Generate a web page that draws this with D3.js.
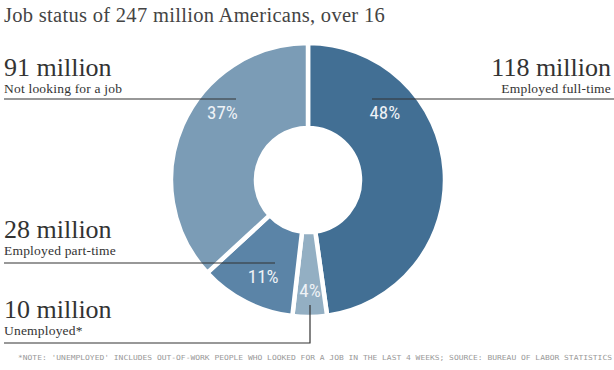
<!DOCTYPE html>
<html>
<head>
<meta charset="utf-8">
<script src="https://cdn.jsdelivr.net/npm/d3@7"></script>
<style>
  body { margin: 0; background: #fff; }
</style>
</head>
<body>
<div id="content"></div>
<script>
const categories = ["Employed full-time", "Unemployed*", "Employed part-time", "Not looking for a job"];
const millions = [118, 10, 28, 91];
const percent_labels = ["48%", "4%", "11%", "37%"];
const colors = ["#426f94", "#93afc3", "#5b84a7", "#7b9cb6"];

const width = 614, height = 370;
const cx = 308, cy = 180;
const outer_r = 137, inner_r = 52;

// where the big labels sit and where their rule ends
const callouts = [
  { x: 611, y: 76, anchor: "end",   line: [[614, 99], [372, 99]] },
  { x: 4,   y: 318, anchor: "start", line: [[4, 343], [310, 343], [310, 305]] },
  { x: 4,   y: 238, anchor: "start", line: [[4, 263], [275, 263]] },
  { x: 4,   y: 76,  anchor: "start", line: [[4, 99], [236, 99]] }
];
// angle (deg, clockwise from top) and radius of the percent text
const pct_pos = [[51.6, 98], [179, 117], [203.6, 112], [-54.6, 105]];

const svg = d3.select("#content")
  .append("svg")
  .attr("width", width)
  .attr("height", height);

svg.append("text")
  .attr("x", 4)
  .attr("y", 22)
  .style("font-family", "Liberation Serif")
  .style("font-size", "20.5px")
  .style("letter-spacing", "0.3px")
  .style("fill", "#444")
  .text("Job status of 247 million Americans, over 16");

const pie = d3.pie().sort(null).value(d => d)(millions);
const arc = d3.arc().innerRadius(inner_r).outerRadius(outer_r);

const g = svg.append("g").attr("transform", `translate(${cx},${cy})`);

g.selectAll("path")
  .data(pie)
  .join("path")
  .attr("d", arc)
  .style("fill", (d, i) => colors[i])
  .style("stroke", "#fff")
  .style("stroke-width", 4.5)
  .style("stroke-linejoin", "miter");

// rules from the labels into the slices
const line = d3.line();
svg.selectAll(".rule")
  .data(callouts)
  .join("path")
  .attr("class", "rule")
  .attr("d", d => line(d.line))
  .style("fill", "none")
  .style("stroke", "#333")
  .style("stroke-width", 1.2);

g.selectAll(".pct")
  .data(pie)
  .join("text")
  .attr("class", "pct")
  .attr("x", (d, i) => pct_pos[i][1] * Math.sin(pct_pos[i][0] * Math.PI / 180))
  .attr("y", (d, i) => -pct_pos[i][1] * Math.cos(pct_pos[i][0] * Math.PI / 180))
  .attr("text-anchor", "middle")
  .style("font-family", "'Liberation Sans Narrow', 'Roboto Condensed', Roboto, sans-serif")
  .style("font-size", "19px")
  .style("fill", "#eef2f6")
  .text((d, i) => percent_labels[i]);

callouts.forEach((c, i) => {
  svg.append("text")
    .attr("x", c.x)
    .attr("y", c.y)
    .attr("text-anchor", c.anchor)
    .style("font-family", "Liberation Serif")
    .style("font-size", "26px")
    .style("fill", "#333")
    .text(millions[i] + " million");
  svg.append("text")
    .attr("x", c.x)
    .attr("y", c.y + 17)
    .attr("text-anchor", c.anchor)
    .style("font-family", "Liberation Serif")
    .style("font-size", "13.5px")
    .style("letter-spacing", "0.2px")
    .style("fill", "#333")
    .text(categories[i]);
});

svg.append("text")
  .attr("x", 18)
  .attr("y", 360)
  .attr("textLength", 594)
  .attr("lengthAdjust", "spacingAndGlyphs")
  .style("font-family", "DejaVu Sans Mono")
  .style("font-size", "7px")
  .style("fill", "#999")
  .text("*NOTE: 'UNEMPLOYED' INCLUDES OUT-OF-WORK PEOPLE WHO LOOKED FOR A JOB IN THE LAST 4 WEEKS; SOURCE: BUREAU OF LABOR STATISTICS");
</script>
</body>
</html>
